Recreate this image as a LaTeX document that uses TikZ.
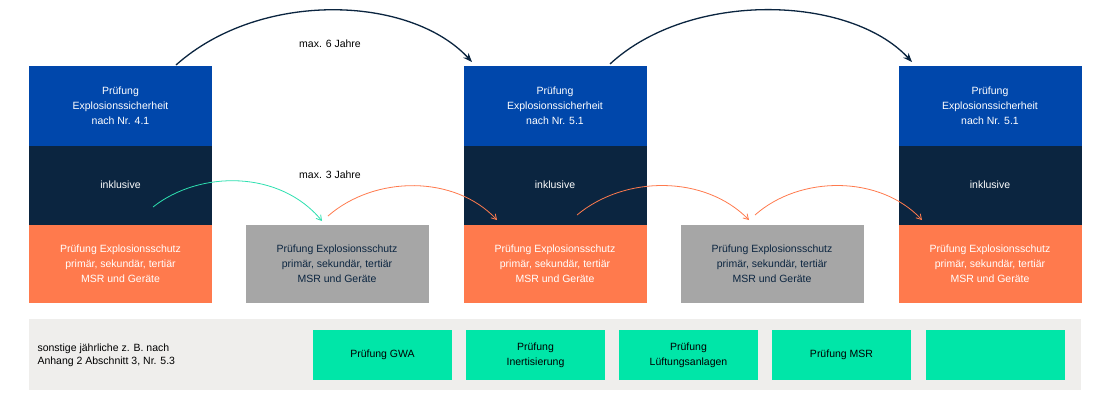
\documentclass[tikz,border=0pt]{standalone}
\usepackage{fontspec}
\setmainfont{Liberation Sans}
\usetikzlibrary{arrows.meta}
\definecolor{cblue}{HTML}{0047AB}
\definecolor{cnavy}{HTML}{0B2540}
\definecolor{corange}{HTML}{FF7A4D}
\definecolor{cgray}{HTML}{A6A6A6}
\definecolor{cgreen}{HTML}{00E6A8}
\definecolor{cband}{HTML}{EFEEEC}
\definecolor{cteal}{HTML}{2EE0B0}
\begin{document}
\begin{tikzpicture}[x=1pt,y=-1pt,
  box/.style={draw=none,minimum width=183pt,align=center,inner sep=0pt,font=\fontsize{10.5}{15}\selectfont},
  blue/.style={box,fill=cblue,text=white,minimum height=80pt},
  navy/.style={box,fill=cnavy,text=white,minimum height=80pt},
  orng/.style={box,fill=corange,text=white,minimum height=78pt},
  gray/.style={box,fill=cgray,text=cnavy,minimum height=78pt},
  grn/.style={box,fill=cgreen,text=black,minimum width=139pt,minimum height=50pt},
  big/.style={-{Stealth[length=9pt,width=7pt]},line width=1.3pt,draw=cnavy},
  small/.style={-{Straight Barb[length=5pt,width=6pt]},line width=0.8pt},
  lbl/.style={font=\fontsize{10.5}{13}\selectfont}]
\useasboundingbox (0,0) rectangle (1100,400);
\fill[white] (0,0) rectangle (1100,400);
\fill[cband] (29,319) rectangle (1081,390);
\foreach \i/\x in {1/120.5,3/555,5/990}{
  \node[navy] (n\i) at (\x,185) {inklusive};
  \node[orng] (o\i) at (\x,264) {Prüfung Explosionsschutz\\primär, sekundär, tertiär\\MSR und Geräte};
}
\node[blue] (b1) at (120.5,105.5) {Prüfung\\Explosionssicherheit\\nach Nr. 4.1};
\node[blue] (b3) at (555,105.5) {Prüfung\\Explosionssicherheit\\nach Nr. 5.1};
\node[blue] (b5) at (990,105.5) {Prüfung\\Explosionssicherheit\\nach Nr. 5.1};
\node[gray] (g2) at (337,264) {Prüfung Explosionsschutz\\primär, sekundär, tertiär\\MSR und Geräte};
\node[gray] (g4) at (772,264) {Prüfung Explosionsschutz\\primär, sekundär, tertiär\\MSR und Geräte};
\node[lbl,align=left,anchor=west] (s) at (34,355) {sonstige jährliche z. B. nach\\Anhang 2 Abschnitt 3, Nr. 5.3};
\node[grn] (k1) at (382.5,355) {Prüfung GWA};
\node[grn] (k2) at (535.5,355) {Prüfung\\Inertisierung};
\node[grn] (k3) at (688.5,355) {Prüfung\\Lüftungsanlagen};
\node[grn] (k4) at (841.5,355) {Prüfung MSR};
\node[grn] (k5) at (995.5,355) {};
\node[lbl] (l6) at (330,44) {max. 6 Jahre};
\node[lbl] (l3) at (330,175) {max. 3 Jahre};
\coordinate (a1s) at (176,65); \coordinate (a1e) at (472,62);
\coordinate (a2s) at (610,64); \coordinate (a2e) at (912,62);
\draw[big] (a1s) .. controls (260,-10) and (410,-5) .. (a1e);
\draw[big] (a2s) .. controls (690,-10) and (850,-5) .. (a2e);
\coordinate (t1s) at (153,207); \coordinate (t1e) at (322,221);
\draw[small,draw=cteal] (t1s) .. controls (200,170) and (280,170) .. (t1e);
\coordinate (r1s) at (328,216); \coordinate (r1e) at (497,220);
\coordinate (r2s) at (577,215); \coordinate (r2e) at (749,220);
\coordinate (r3s) at (755,215); \coordinate (r3e) at (922,220);
\draw[small,draw=corange] (r1s) .. controls (375,175) and (455,175) .. (r1e);
\draw[small,draw=corange] (r2s) .. controls (625,175) and (705,175) .. (r2e);
\draw[small,draw=corange] (r3s) .. controls (800,175) and (880,175) .. (r3e);
\end{tikzpicture}
\end{document}
